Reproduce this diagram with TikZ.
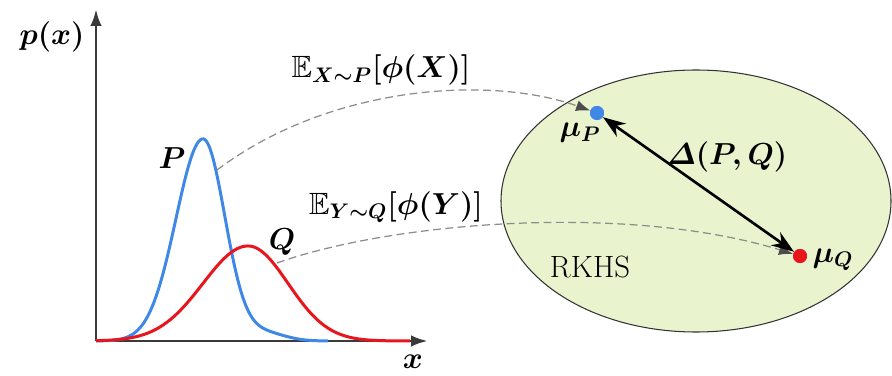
\documentclass[tikz,border=0pt]{standalone}
\usepackage{amsmath}
\usepackage{amssymb}
\usepackage{tikz}
\usetikzlibrary{arrows.meta,positioning,shapes.geometric}
\definecolor{pblue}{HTML}{3F88E6}
\definecolor{qred}{HTML}{E8151C}
\definecolor{axgray}{HTML}{3A3A3A}
\definecolor{dashgray}{HTML}{8C8C8C}
\definecolor{rkhsfill}{HTML}{E9F4CF}

\begin{document}
\begin{tikzpicture}[
  lbl/.style={font=\fontsize{17.5}{20}\selectfont\boldmath, inner sep=1pt},
  axis/.style={line width=1.7pt, color=axgray, -{Latex[length=3.4mm,width=2.3mm]}},
  dens/.style={line width=1.7pt, line join=round},
  embed/.style={dashed, dash pattern=on 4.5pt off 2.5pt, line width=0.7pt, color=dashgray, -{Latex[length=2.8mm,width=2.2mm,color=black!70]}},
  dot/.style={circle, inner sep=0pt, minimum size=2.8mm},
]
\useasboundingbox (0,0) rectangle (17.84,7.5);

% axes
\coordinate (o) at (1.92,0.68);
\coordinate (xend) at (8.56,0.68);
\coordinate (yend) at (1.92,7.32);
\draw[axis] (o) -- (xend);
\draw[axis] (o) -- (yend);
\node[lbl] (ylab) at (1.04,6.76) {$p(x)$};
\node[lbl] (xlab) at (8.26,0.26) {$x$};

% densities P and Q
\begin{scope}[shift={(o)}, x=0.02cm, y=0.02cm]
  \draw[dens, pblue] plot[domain=0:232, samples=150, smooth]
    (\x, {202*exp(-((\x-107)/(\x<107?27:22))^2/2) + 8*exp(-((\x-169)/20)^2/2)});
  \draw[dens, qred] plot[domain=0:314, samples=150, smooth]
    (\x, {95*exp(-((\x-152)/(\x<152?45:40))^2/2)});
\end{scope}
\node[lbl] (plab) at (3.44,4.34) {$P$};
\node[lbl] (qlab) at (5.64,2.66) {$Q$};

% RKHS
\node[ellipse, draw=black!80, line width=0.6pt, fill=rkhsfill, minimum width=7.8cm, minimum height=5.24cm, inner sep=0pt] (rkhs) at (13.92,3.48) {};
\node[font=\fontsize{17.5}{20}\selectfont] (rlab) at (11.80,2.16) {RKHS};

\node[dot, fill=pblue] (muP) at (11.94,5.24) {};
\node[dot, fill=qred] (muQ) at (16.00,2.38) {};

% mean embeddings
\coordinate (p1) at (4.34,4.10);
\coordinate (q1) at (5.54,2.24);
\draw[embed] (p1) .. controls (6.6,5.8) and (9.8,6.0) .. (muP);
\draw[embed] (q1) .. controls (7.8,3.05) and (12.5,3.45) .. (muQ);
\node[lbl] (elab1) at (7.62,6.10) {$\mathbb{E}_{X\sim P}[\phi(X)]$};
\node[lbl] (elab2) at (7.92,3.36) {$\mathbb{E}_{Y\sim Q}[\phi(Y)]$};

% dots on top, distance
\node[dot, fill=pblue] at (muP) {};
\node[dot, fill=qred] at (muQ) {};
\draw[line width=1.5pt, {Stealth[length=4.5mm,width=3.2mm]}-{Stealth[length=4.5mm,width=3.2mm]}] (muP) -- (muQ);
\node[lbl] (mplab) at (11.60,4.84) {$\mu_P$};
\node[lbl] (mqlab) at (16.66,2.30) {$\mu_Q$};
\node[lbl] (dlab) at (14.54,4.36) {$\varDelta(P,Q)$};

\end{tikzpicture}
\end{document}
